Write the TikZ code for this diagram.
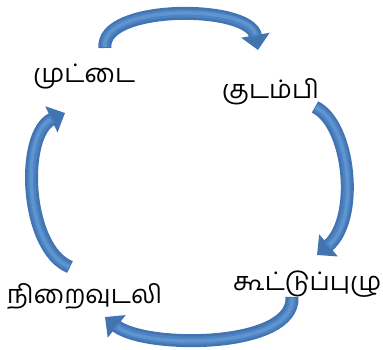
\documentclass[tikz,border=0pt]{standalone}
\usepackage{fontspec}
\newfontfamily\tamilfont[Script=Tamil]{Hind Madurai}
\usetikzlibrary{arrows.meta}
\definecolor{arrowblue}{RGB}{66,116,178}
\definecolor{arrowmid}{RGB}{78,131,194}
\definecolor{arrowlight}{RGB}{94,148,208}

\begin{document}
\begin{tikzpicture}[%
    x=1pt, y=1pt,             % picture measured in pixels
    >={Triangle[width=28pt,length=15pt]},
    ]
% -------------------------------------------------
% Styles
\tikzset{
  stage/.style={inner sep=0pt, anchor=base west, font=\tamilfont\fontsize{25.5}{30}\selectfont},
  cyc/.style={->, draw=arrowblue, line width=13pt},
  glow/.style={draw=arrowmid, line width=8pt, shorten >=14pt, shorten <=1pt},
  shine/.style={draw=arrowlight, line width=3.5pt, shorten >=16pt, shorten <=1pt}
}
\useasboundingbox (0,0) rectangle (383,349);
% -------------------------------------------------
% The four stages

\node [stage] (egg) at (33,266) {முட்டை};
\node [stage] (larva) at (222,251) {குடம்பி};
\node [stage] (pupa) at (233,59) {கூட்டுப்புழு};
\node [stage] (adult) at (7,46) {நிறைவுடலி};

% Arrow ends between the stages
\coordinate (egg-out) at (105,301);
\coordinate (larva-in) at (258,299);
\coordinate (larva-out) at (315,242);
\coordinate (pupa-in) at (317,94);
\coordinate (pupa-out) at (292,52);
\coordinate (adult-in) at (105,32);
\coordinate (adult-out) at (70,82);
\coordinate (egg-in) at (65,236);

\foreach \a/\b/\c/\d in {egg-out/{(100,345)}/{(250,345)}/larva-in,
                         larva-out/{(350,225)}/{(360,130)}/pupa-in,
                         pupa-out/{(295,0)}/{(145,0)}/adult-in,
                         adult-out/{(25,100)}/{(20,215)}/egg-in}{
  \draw[cyc] (\a) .. controls \b and \c .. (\d);
  \draw[glow] (\a) .. controls \b and \c .. (\d);
  \draw[shine] (\a) .. controls \b and \c .. (\d);
}

% -------------------------------------------------
\end{tikzpicture}
\end{document}
